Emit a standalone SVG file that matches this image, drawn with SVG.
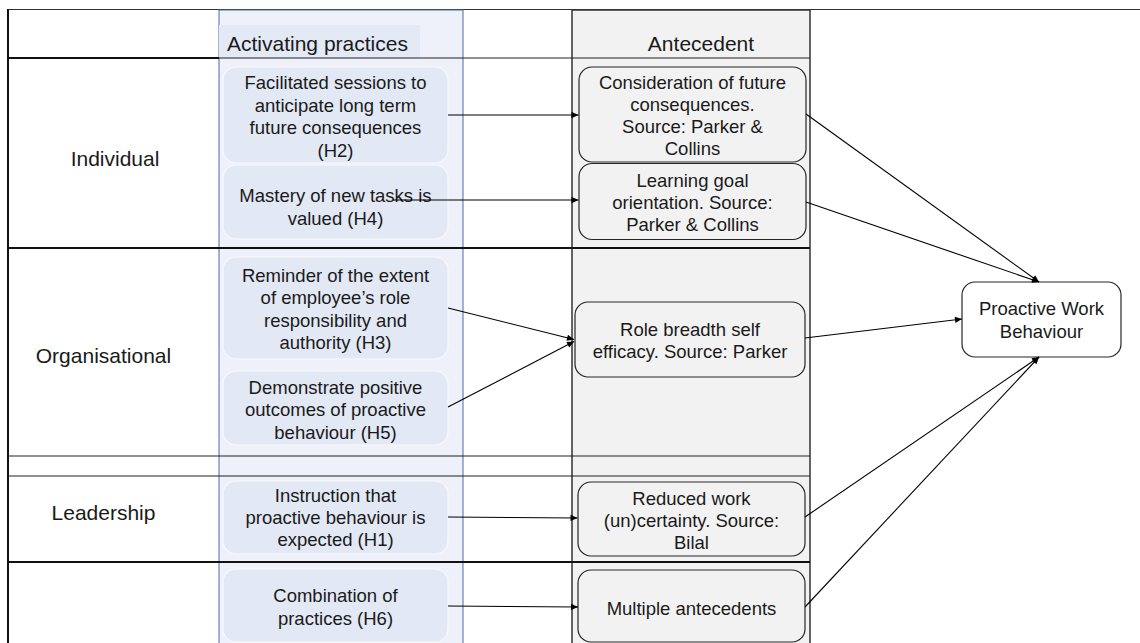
<svg xmlns="http://www.w3.org/2000/svg" width="1140" height="643" viewBox="0 0 1140 643">
  <defs>
    <style>
      text { font-family: "Liberation Sans", Arial, sans-serif; fill: #1a1a1a; }
      .lbl { font-size: 21px; }
      .bx { font-size: 18.5px; text-anchor: middle; }
      .prac { fill: #e2e8f4; stroke: #f7f9fd; stroke-width: 1.2; }
      .ant { fill: #f2f2f2; stroke: #262626; stroke-width: 1.2; }
      .thick { stroke: #111; stroke-width: 2; }
      .thin { stroke: #222; stroke-width: 1.2; }
      .conn { stroke: #000; stroke-width: 1.1; fill: none; marker-end: url(#ah); }
    </style>
    <marker id="ah" viewBox="0 0 10 10" refX="10" refY="5" markerWidth="8" markerHeight="7" markerUnits="userSpaceOnUse" orient="auto">
      <path d="M0,0.5 L10,5 L0,9.5 z" fill="#000"/>
    </marker>
  </defs>

  <rect width="1140" height="643" fill="#fff"/>

  <!-- table frame -->
  <g id="table">
    <line x1="8" y1="9.5" x2="1140" y2="9.5" stroke="#333" stroke-width="1"/>
    <rect x="219" y="10" width="244" height="640" fill="#eef1f9" stroke="#4a6aa8" stroke-width="1"/>
    <rect x="219" y="25" width="201" height="33" fill="#e3e9f5"/>
    <rect x="572" y="10" width="238" height="640" fill="#f2f2f2" stroke="#333" stroke-width="1.5"/>
    <line x1="8" y1="9" x2="8" y2="643" class="thick"/>
    <line x1="8" y1="58" x2="219" y2="58" class="thick"/>
    <line x1="219" y1="58" x2="810" y2="58" class="thin"/>
    <line x1="8" y1="248" x2="810" y2="248" class="thick"/>
    <line x1="8" y1="456" x2="810" y2="456" class="thin"/>
    <line x1="8" y1="476" x2="810" y2="476" class="thin"/>
    <line x1="8" y1="562" x2="810" y2="562" class="thick"/>
    <text class="lbl" x="227" y="51">Activating practices</text>
    <text class="lbl" x="701" y="51" text-anchor="middle">Antecedent</text>
  </g>

  <!-- row labels -->
  <g id="row-individual"><text class="lbl" x="115" y="166" text-anchor="middle">Individual</text></g>
  <g id="row-organisational"><text class="lbl" x="103.5" y="363" text-anchor="middle">Organisational</text></g>
  <g id="row-leadership"><text class="lbl" x="103.5" y="520" text-anchor="middle">Leadership</text></g>

  <!-- activating practices -->
  <g id="p-h2">
    <rect class="prac" x="223" y="67" width="225" height="96" rx="13"/>
    <text class="bx"><tspan x="335.5" y="89">Facilitated sessions to</tspan><tspan x="335.5" y="111.5">anticipate long term</tspan><tspan x="335.5" y="134">future consequences</tspan><tspan x="335.5" y="156.5">(H2)</tspan></text>
  </g>
  <g id="p-h4">
    <rect class="prac" x="223" y="165" width="225" height="74" rx="13"/>
    <text class="bx"><tspan x="335.5" y="202">Mastery of new tasks is</tspan><tspan x="335.5" y="224.5">valued (H4)</tspan></text>
  </g>
  <g id="p-h3">
    <rect class="prac" x="223" y="257" width="225" height="102" rx="13"/>
    <text class="bx"><tspan x="335.5" y="282">Reminder of the extent</tspan><tspan x="335.5" y="304">of employee’s role</tspan><tspan x="335.5" y="326.5">responsibility and</tspan><tspan x="335.5" y="348.5">authority (H3)</tspan></text>
  </g>
  <g id="p-h5">
    <rect class="prac" x="223" y="371" width="225" height="74" rx="13"/>
    <text class="bx"><tspan x="335.5" y="393.5">Demonstrate positive</tspan><tspan x="335.5" y="416">outcomes of proactive</tspan><tspan x="335.5" y="438.5">behaviour (H5)</tspan></text>
  </g>
  <g id="p-h1">
    <rect class="prac" x="223" y="481" width="225" height="73" rx="13"/>
    <text class="bx"><tspan x="335.5" y="501.5">Instruction that</tspan><tspan x="335.5" y="523.5">proactive behaviour is</tspan><tspan x="335.5" y="546">expected  (H1)</tspan></text>
  </g>
  <g id="p-h6">
    <rect class="prac" x="223" y="569" width="225" height="73" rx="13"/>
    <text class="bx"><tspan x="335.5" y="602">Combination of</tspan><tspan x="335.5" y="624.5">practices (H6)</tspan></text>
  </g>

  <!-- antecedents -->
  <g id="a-future">
    <rect class="ant" x="579" y="67" width="227" height="95" rx="13"/>
    <text class="bx"><tspan x="692.5" y="88.5">Consideration of future</tspan><tspan x="692.5" y="110.5">consequences.</tspan><tspan x="692.5" y="133">Source: Parker &amp;</tspan><tspan x="692.5" y="155">Collins</tspan></text>
  </g>
  <g id="a-learning">
    <rect class="ant" x="579" y="163.5" width="227" height="76" rx="13"/>
    <text class="bx"><tspan x="692.5" y="186.5">Learning goal</tspan><tspan x="692.5" y="208.5">orientation. Source:</tspan><tspan x="692.5" y="230.5">Parker &amp; Collins</tspan></text>
  </g>
  <g id="a-role">
    <rect class="ant" x="575" y="302" width="230" height="75" rx="13"/>
    <text class="bx"><tspan x="690" y="335.5">Role breadth self</tspan><tspan x="690" y="358">efficacy. Source: Parker</tspan></text>
  </g>
  <g id="a-uncertainty">
    <rect class="ant" x="578" y="482" width="227" height="74" rx="13"/>
    <text class="bx"><tspan x="691.5" y="504.5">Reduced work</tspan><tspan x="691.5" y="526.5">(un)certainty. Source:</tspan><tspan x="691.5" y="548.5">Bilal</tspan></text>
  </g>
  <g id="a-multiple">
    <rect class="ant" x="578" y="570" width="227" height="72" rx="13"/>
    <text class="bx"><tspan x="691.5" y="615">Multiple antecedents</tspan></text>
  </g>

  <!-- outcome -->
  <g id="outcome">
    <rect x="962" y="282" width="159" height="75" rx="13" fill="#fff" stroke="#262626" stroke-width="1.2"/>
    <text class="bx"><tspan x="1041.5" y="315">Proactive Work</tspan><tspan x="1041.5" y="337.5">Behaviour</tspan></text>
  </g>

  <!-- connectors -->
  <g id="connectors">
    <path class="conn" d="M448,115 L578.5,115"/>
    <path class="conn" d="M393,200 L578.5,200"/>
    <path class="conn" d="M448,308 L574,339.5"/>
    <path class="conn" d="M448,407 L574,341.5"/>
    <path class="conn" d="M448,517 L577.5,518"/>
    <path class="conn" d="M448,606 L578,607"/>
    <path class="conn" d="M806,114 L1039,282"/>
    <path class="conn" d="M806,202 L1039,282"/>
    <path class="conn" d="M805,338 L962,319"/>
    <path class="conn" d="M805,517 L1039,357"/>
    <path class="conn" d="M805,607 L1039,357"/>
  </g>
</svg>
